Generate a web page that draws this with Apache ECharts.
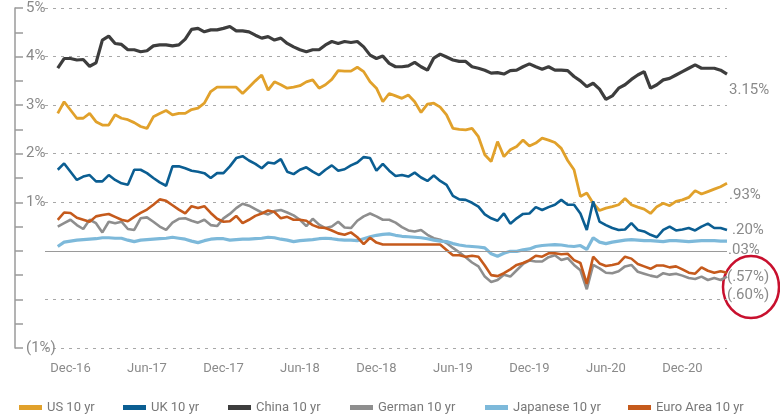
<!DOCTYPE html>
<html>
<head>
<meta charset="utf-8">
<style>
  html, body { margin: 0; padding: 0; background: #fff; }
  #chart { width: 780px; height: 417px; }
</style>
<script src="https://cdn.jsdelivr.net/npm/echarts@6/dist/echarts.min.js"></script>
</head>
<body>
<div id="chart"></div>
<script>
// no condensed face installed, Roboto is the closest narrow-ish one
const font = "Roboto, 'Liberation Sans', sans-serif"

// half-month steps, Oct-16 .. Mar-21
const dates = []
for (let y = 2016; y <= 2021; y++) {
  for (let m = 1; m <= 12; m++) {
    if (y === 2016 && m < 10) continue
    if (y === 2021 && m > 3) break
    const mm = String(m).padStart(2, '0')
    dates.push(y + '-' + mm + '-01', y + '-' + mm + '-15')
  }
}

const xTickDates = ['2016-12-01', '2017-06-01', '2017-12-01', '2018-06-01', '2018-12-01',
  '2019-06-01', '2019-12-01', '2020-06-01', '2020-12-01']
const xTickLabels = ['Dec-16', 'Jun-17', 'Dec-17', 'Jun-18', 'Dec-18', 'Jun-19', 'Dec-19', 'Jun-20', 'Dec-20']

const yTickValues = [5, 4, 3, 2, 1, 0, -1, -2]
const yTickLabels = ['5%', '4%', '3%', '2%', '1%', '', '', '(1%)']

const seriesNames = ['US 10 yr', 'UK 10 yr', 'China 10 yr', 'German 10 yr', 'Japanese 10 yr', 'Euro Area 10 yr']
const seriesColors = ['#E1A12B', '#0B5E92', '#3d3d3d', '#8e8e8e', '#7DB9DA', '#C55A1C']

const us = [null, null,
  2.83, 3.07, 2.90, 2.73, 2.73, 2.83, 2.66, 2.59, 2.59, 2.80,
  2.73, 2.70, 2.64, 2.56, 2.52, 2.76, 2.83, 2.89, 2.80, 2.83,
  2.83, 2.91, 2.94, 3.04, 3.28, 3.37, 3.37, 3.37, 3.37, 3.24,
  3.37, 3.50, 3.62, 3.31, 3.48, 3.42, 3.35, 3.37, 3.40, 3.48,
  3.52, 3.35, 3.42, 3.53, 3.71, 3.70, 3.70, 3.78, 3.69, 3.48,
  3.35, 3.07, 3.24, 3.19, 3.14, 3.21, 3.07, 2.85, 3.02, 3.04,
  2.96, 2.80, 2.52, 2.50, 2.49, 2.52, 2.35, 1.98, 1.84, 2.25,
  1.94, 2.08, 2.15, 2.28, 2.16, 2.22, 2.32, 2.28, 2.23, 2.11,
  1.86, 1.67, 1.12, 1.19, 0.98, 0.83, 0.88, 0.91, 0.95, 1.08,
  0.95, 0.90, 0.86, 0.77, 0.91, 0.98, 0.93, 1.02, 1.05, 1.10,
  1.24, 1.17, 1.22, 1.27, 1.32, 1.39]

const uk = [null, null,
  1.67, 1.80, 1.63, 1.46, 1.53, 1.56, 1.43, 1.43, 1.56, 1.46,
  1.39, 1.36, 1.67, 1.67, 1.60, 1.50, 1.41, 1.34, 1.74, 1.74,
  1.70, 1.65, 1.63, 1.60, 1.50, 1.60, 1.60, 1.74, 1.91, 1.95,
  1.86, 1.79, 1.70, 1.82, 1.80, 1.89, 1.63, 1.58, 1.67, 1.72,
  1.63, 1.56, 1.67, 1.76, 1.65, 1.68, 1.76, 1.82, 1.93, 1.91,
  1.65, 1.79, 1.65, 1.54, 1.56, 1.53, 1.61, 1.51, 1.44, 1.55,
  1.44, 1.36, 1.13, 1.06, 1.05, 0.99, 0.91, 0.75, 0.67, 0.62,
  0.77, 0.56, 0.67, 0.76, 0.77, 0.90, 0.84, 0.90, 0.95, 1.05,
  0.95, 0.95, 0.77, 0.43, 1.02, 0.60, 0.53, 0.47, 0.43, 0.44,
  0.57, 0.43, 0.40, 0.33, 0.28, 0.43, 0.50, 0.42, 0.44, 0.47,
  0.42, 0.50, 0.56, 0.47, 0.47, 0.43]

const china = [null, null,
  3.76, 3.96, 3.96, 3.93, 3.94, 3.80, 3.87, 4.34, 4.42, 4.27,
  4.25, 4.14, 4.14, 4.10, 4.12, 4.22, 4.24, 4.24, 4.22, 4.24,
  4.36, 4.56, 4.58, 4.51, 4.55, 4.55, 4.58, 4.62, 4.53, 4.53,
  4.51, 4.44, 4.38, 4.41, 4.34, 4.38, 4.27, 4.20, 4.14, 4.10,
  4.14, 4.14, 4.24, 4.31, 4.27, 4.31, 4.29, 4.31, 4.20, 4.03,
  3.96, 4.01, 3.86, 3.79, 3.79, 3.81, 3.88, 3.79, 3.72, 3.97,
  4.05, 3.99, 3.93, 3.90, 3.90, 3.79, 3.76, 3.72, 3.66, 3.67,
  3.64, 3.71, 3.72, 3.79, 3.85, 3.79, 3.74, 3.79, 3.72, 3.72,
  3.71, 3.59, 3.50, 3.38, 3.45, 3.33, 3.12, 3.19, 3.35, 3.42,
  3.53, 3.62, 3.69, 3.35, 3.42, 3.52, 3.55, 3.62, 3.69, 3.76,
  3.83, 3.76, 3.76, 3.76, 3.72, 3.64]

const german = [null, null,
  0.50, 0.57, 0.64, 0.53, 0.45, 0.64, 0.57, 0.38, 0.60, 0.57,
  0.60, 0.45, 0.43, 0.67, 0.69, 0.60, 0.50, 0.43, 0.58, 0.66,
  0.67, 0.62, 0.58, 0.64, 0.53, 0.51, 0.67, 0.76, 0.88, 0.97,
  0.93, 0.86, 0.79, 0.75, 0.82, 0.84, 0.79, 0.73, 0.64, 0.51,
  0.66, 0.54, 0.47, 0.50, 0.60, 0.48, 0.47, 0.62, 0.71, 0.77,
  0.71, 0.64, 0.64, 0.58, 0.49, 0.42, 0.40, 0.43, 0.33, 0.26,
  0.23, 0.16, 0.06, -0.03, -0.13, -0.24, -0.32, -0.53, -0.64, -0.60,
  -0.49, -0.53, -0.40, -0.27, -0.20, -0.22, -0.22, -0.13, -0.09, -0.19,
  -0.15, -0.29, -0.40, -0.79, -0.29, -0.36, -0.45, -0.46, -0.42, -0.32,
  -0.29, -0.43, -0.47, -0.51, -0.54, -0.46, -0.49, -0.47, -0.51, -0.56,
  -0.58, -0.53, -0.60, -0.56, -0.60, -0.53]

const japan = [null, null,
  0.09, 0.18, 0.20, 0.22, 0.23, 0.24, 0.25, 0.27, 0.27, 0.26,
  0.26, 0.22, 0.19, 0.22, 0.23, 0.24, 0.25, 0.26, 0.28, 0.26,
  0.24, 0.20, 0.17, 0.21, 0.24, 0.25, 0.25, 0.22, 0.23, 0.24,
  0.24, 0.25, 0.26, 0.28, 0.27, 0.24, 0.22, 0.19, 0.21, 0.22,
  0.23, 0.25, 0.26, 0.25, 0.23, 0.22, 0.22, 0.21, 0.25, 0.29,
  0.32, 0.34, 0.35, 0.32, 0.30, 0.29, 0.28, 0.27, 0.25, 0.22,
  0.20, 0.19, 0.15, 0.12, 0.10, 0.09, 0.08, 0.06, -0.06, -0.11,
  -0.05, -0.01, -0.01, 0.02, 0.04, 0.09, 0.11, 0.12, 0.13, 0.12,
  0.10, 0.09, 0.11, 0.03, 0.27, 0.18, 0.15, 0.18, 0.20, 0.22,
  0.23, 0.22, 0.21, 0.21, 0.20, 0.19, 0.21, 0.21, 0.20, 0.19,
  0.20, 0.21, 0.21, 0.21, 0.20, 0.20]

const euro = [null, null,
  0.64, 0.79, 0.78, 0.68, 0.64, 0.60, 0.71, 0.74, 0.76, 0.70,
  0.64, 0.61, 0.70, 0.78, 0.85, 0.95, 1.06, 1.03, 0.94, 0.85,
  0.77, 0.92, 0.88, 0.92, 0.78, 0.66, 0.60, 0.61, 0.72, 0.57,
  0.64, 0.72, 0.77, 0.83, 0.80, 0.67, 0.70, 0.64, 0.64, 0.62,
  0.53, 0.48, 0.47, 0.42, 0.36, 0.33, 0.38, 0.28, 0.14, 0.27,
  0.17, 0.13, 0.13, 0.13, 0.13, 0.13, 0.13, 0.13, 0.13, 0.13,
  0.13, 0.02, -0.09, -0.09, -0.12, -0.10, -0.12, -0.30, -0.50, -0.52,
  -0.46, -0.38, -0.29, -0.25, -0.19, -0.10, -0.12, -0.05, -0.05, -0.07,
  -0.06, -0.19, -0.25, -0.68, -0.12, -0.26, -0.31, -0.29, -0.26, -0.12,
  -0.16, -0.27, -0.32, -0.37, -0.30, -0.30, -0.34, -0.32, -0.38, -0.45,
  -0.47, -0.34, -0.41, -0.45, -0.42, -0.45]

// annotations at the right edge
const endNotes = ['3.15%', '.93%', '.20%', '.03%', '(.57%)', '(.60%)']

const allData = [us, uk, china, german, japan, euro]
const lineWidths = [2.8, 2.6, 3.2, 2.6, 3.2, 2.6]

const chart = echarts.init(document.getElementById('chart'), null, { renderer: 'canvas' })

const series = seriesNames.map((name, i) => ({
  name: name,
  type: 'line',
  data: allData[i],
  showSymbol: false,
  symbol: 'none',
  color: seriesColors[i],
  lineStyle: { color: seriesColors[i], width: lineWidths[i] },
  animation: false
}))

// zero line
series[0].markLine = {
  silent: true,
  symbol: ['none', 'none'],
  label: { show: false },
  lineStyle: { color: '#9a9a9a', type: 'solid', width: 1.2 },
  data: [{ yAxis: 0 }]
}

// one legend per item so each sits where the reference puts it
const legendLeft = [14, 118, 223, 345, 480, 623]
const legends = seriesNames.map((name, i) => ({
  data: [name],
  left: legendLeft[i],
  top: 396,
  icon: 'rect',
  itemWidth: 23,
  itemHeight: 5,
  textStyle: { color: '#787878', fontSize: 13, fontFamily: font }
}))

const noteStyle = { fill: '#8a8a8a', fontSize: 15, fontFamily: font }
const noteY = [90, 195, 230, 250, 277, 295]
const noteX = [729, 729, 732, 728, 727, 727]

chart.setOption({
  animation: false,
  grid: { left: 45, right: 53, top: 8, bottom: 69 },
  legend: legends,
  xAxis: {
    type: 'category',
    data: dates,
    boundaryGap: false,
    axisLine: { show: false },
    axisTick: { show: false },
    splitLine: { show: false },
    axisLabel: {
      margin: 14,
      color: '#8a8a8a',
      fontSize: 13,
      fontFamily: font,
      interval: (idx, val) => xTickDates.includes(val),
      formatter: val => xTickLabels[xTickDates.indexOf(val)] || ''
    }
  },
  yAxis: {
    type: 'value',
    min: -2,
    max: 5,
    interval: 1,
    offset: 30,
    axisLine: { show: true, lineStyle: { color: '#9a9a9a', width: 1.5 } },
    axisTick: { show: true, inside: true, length: 8, lineStyle: { color: '#9a9a9a', width: 1.5 } },
    minorTick: { show: true, splitNumber: 2, length: 8, lineStyle: { color: '#9a9a9a', width: 1.5 } },
    axisLabel: {
      inside: true,
      margin: 11,
      color: '#8a8a8a',
      fontSize: 15,
      fontFamily: font,
      formatter: v => {
        const k = yTickValues.indexOf(v)
        return k >= 0 ? yTickLabels[k] : ''
      }
    },
    splitLine: { show: true, lineStyle: { color: '#a8a8a8', type: [3, 5], width: 1 } }
  },
  series: series,
  graphic: endNotes.map((t, i) => ({
    type: 'text',
    x: noteX[i],
    y: noteY[i],
    style: Object.assign({ text: t, verticalAlign: 'middle' }, noteStyle)
  })).concat([{
    type: 'ellipse',
    shape: { cx: 751, cy: 287, rx: 28, ry: 31 },
    style: { fill: 'none', stroke: '#C8102E', lineWidth: 2.5 }
  }])
})
</script>
</body>
</html>
